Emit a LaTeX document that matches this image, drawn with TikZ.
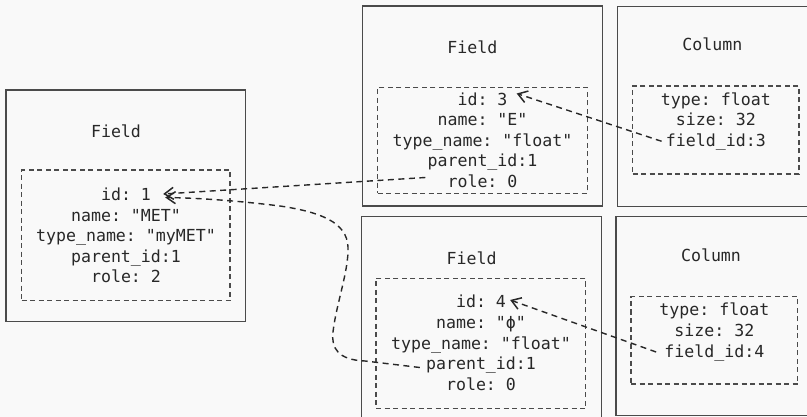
\documentclass[tikz,border=0pt]{standalone}
\usepackage{fontspec}
\setmonofont{DejaVu Sans Mono}
\usetikzlibrary{arrows.meta,calc}
\definecolor{bg}{RGB}{249,249,249}
\definecolor{ink}{RGB}{40,40,40}
\definecolor{edge}{RGB}{75,75,75}
\begin{document}
\begin{tikzpicture}[x=1pt,y=-1pt,
  outer/.style={draw=edge,line width=1.2pt,rectangle,inner sep=0pt},
  inner/.style={draw=edge,line width=1.1pt,dash pattern=on 5pt off 3.5pt,rectangle,inner sep=0pt},
  txt/.style={font=\ttfamily\fontsize{16.6}{19}\selectfont,text=ink,anchor=base,inner sep=0pt,text height=11pt,text depth=3pt},
  link/.style={draw=ink,line width=1.4pt,dash pattern=on 6pt off 4.5pt,-{Straight Barb[length=9pt,width=12pt,line width=1.5pt]}}]
\fill[bg] (0,0) rectangle (807,417);
\useasboundingbox (0,0) rectangle (807,417);

% ---- left Field ----
\node[outer,minimum width=239.5pt,minimum height=231.5pt] (L) at (125.75,205.75) {};
\node[inner,minimum width=208.3pt,minimum height=130.7pt] (Ld) at (125.85,235.35) {};
\node[txt] (Lt) at (116,138) {Field};
\node[txt] (id1) at (126,201) {id: 1};
\node[txt] (nm1) at (126,221.5) {name: "MET"};
\node[txt] (tn1) at (126,242) {type\_name: "myMET"};
\node[txt] (pa1) at (126,262.5) {parent\_id:1};
\node[txt] (ro1) at (126,283) {role: 2};

% ---- top Field ----
\node[outer,minimum width=240.4pt,minimum height=200pt] (T) at (482.5,106) {};
\node[inner,minimum width=209.6pt,minimum height=106pt] (Td) at (482.5,140.3) {};
\node[txt] (Tt) at (472.3,54) {Field};
\node[txt] (id3) at (482.5,105.5) {id: 3};
\node[txt] (nm3) at (482.5,126) {name: "E"};
\node[txt] (tn3) at (482.5,146.5) {type\_name: "float"};
\node[txt] (pa3) at (482.5,167) {parent\_id:1};
\node[txt] (ro3) at (482.5,187.5) {role: 0};

% ---- top Column ----
\node[outer,minimum width=200pt,minimum height=200pt] (C1) at (717.3,106.5) {};
\node[inner,minimum width=166.3pt,minimum height=88pt] (C1d) at (715.85,130) {};
\node[txt] (C1t) at (712.3,51) {Column};
\node[txt] (ty3) at (715.8,105.3) {type: float};
\node[txt] (sz3) at (715.8,125.8) {size: 32};
\node[txt] (fi3) at (715.8,146.3) {field\_id:3};

% ---- bottom Field ----
\node[outer,minimum width=240pt,minimum height=210pt] (B) at (481.7,321.5) {};
\node[inner,minimum width=209.7pt,minimum height=130pt] (Bd) at (480.85,343.3) {};
\node[txt] (Bt) at (471.7,264.3) {Field};
\node[txt] (id4) at (481,308) {id: 4};
\node[txt] (nm4) at (481,328.5) {name: "ϕ"};
\node[txt] (tn4) at (481,349) {type\_name: "float"};
\node[txt] (pa4) at (481,369.5) {parent\_id:1};
\node[txt] (ro4) at (481,390) {role: 0};

% ---- bottom Column ----
\node[outer,minimum width=200pt,minimum height=198.5pt] (C2) at (716,316) {};
\node[inner,minimum width=166.7pt,minimum height=87.3pt] (C2d) at (714.35,340.35) {};
\node[txt] (C2t) at (711,261.7) {Column};
\node[txt] (ty4) at (714.3,316) {type: float};
\node[txt] (sz4) at (714.3,336.5) {size: 32};
\node[txt] (fi4) at (714.3,357) {field\_id:4};

% ---- connectors ----
\draw[link] ([xshift=-22pt,yshift=6pt]ro3.west) -- ([xshift=12pt,yshift=3pt]id1.east);
\draw[link] ([xshift=-6pt,yshift=-2pt]pa4.west) -- (365,361)
  .. controls (338,360) and (331,348) .. (333,332)
  .. controls (336,305) and (349,270) .. (348,247)
  .. controls (347,222) and (320,212) .. (280,206)
  .. controls (240,201) and (200,198) .. ([xshift=14pt,yshift=-0.5pt]id1.east);
\draw[link] ([xshift=-4pt,yshift=1pt]fi3.west) -- ([xshift=9pt,yshift=8pt]id3.east);
\draw[link] ([xshift=-8pt,yshift=1pt]fi4.west) -- ([xshift=4pt,yshift=4pt]id4.east);
\end{tikzpicture}
\end{document}
